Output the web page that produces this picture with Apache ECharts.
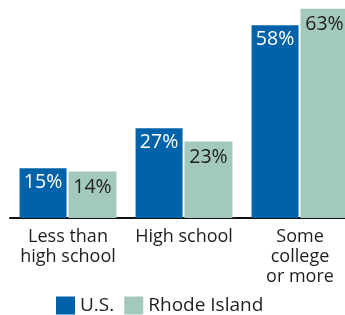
<!DOCTYPE html>
<html><head><meta charset="utf-8">
<script src="https://cdn.jsdelivr.net/npm/echarts@6/dist/echarts.min.js"></script>
<style>html,body{margin:0;padding:0;background:#fff;overflow:hidden}#c{width:358px;height:315px}</style>
</head><body><div id="c"></div>
<script>
const categories = ["Less than\nhigh school", "High school", "Some\ncollege\nor more"];
const usValues = [15, 27, 58];
const riValues = [14, 23, 63];
const seriesNames = ["U.S.", "Rhode Island"];

const chart = echarts.init(document.getElementById('c'), null, {renderer: 'canvas'});
const font = '"Open Sans", "Liberation Sans", Arial, sans-serif';
chart.setOption({
  animation: false,
  textStyle: {fontFamily: font},
  legend: {
    data: seriesNames, left: 51, top: 291, itemWidth: 19, itemHeight: 18, itemGap: 10,
    icon: 'rect',
    textStyle: {fontSize: 19, color: '#1e1e1e', fontFamily: font}
  },
  grid: {left: 10, right: 0, top: 2, height: 216},
  xAxis: {
    type: 'category', data: categories,
    axisLine: {lineStyle: {color: '#111', width: 2}},
    axisTick: {show: false},
    axisLabel: {fontSize: 18, color: '#1e1e1e', lineHeight: 20, margin: 9, fontFamily: font, interval: 0}
  },
  yAxis: {type: 'value', min: 0, max: 65, show: false, splitLine: {show: false}},
  series: [
    {name: seriesNames[0], type: 'bar', data: usValues, barWidth: 47, barGap: '4%',
     itemStyle: {color: '#0063A9'},
     label: {show: true, position: 'insideTop', distance: 4, formatter: '{c}%', fontSize: 19.5, color: '#fff', fontFamily: font}},
    {name: seriesNames[1], type: 'bar', data: riValues, barWidth: 48,
     itemStyle: {color: '#A3C9BD'},
     label: {show: true, position: 'insideTop', distance: 6, formatter: '{c}%', fontSize: 19.5, color: '#1e1e1e', fontFamily: font}}
  ]
});
</script></body></html>
